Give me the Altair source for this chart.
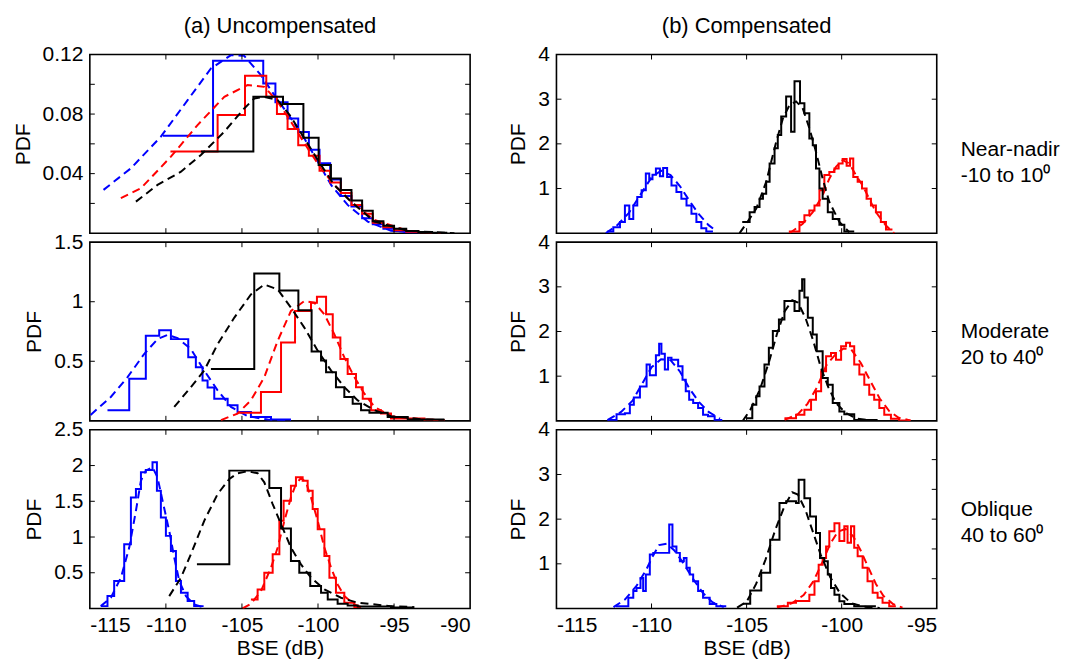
import altair as alt
import pandas as pd

FONT = "Liberation Sans"
W, H = 381, 179
BLUE, RED, BLACK = "#0000ff", "#ff0000", "#000000"

# ---------------- axis values ----------------
X_LEFT = [-115, -90]
X_RIGHT = [-115, -95]
X_LEFT_LABELS = [-115, -110, -105, -100, -95, -90]
X_RIGHT_LABELS = [-115, -110, -105, -100, -95]
X_LEFT_INNER = [-110, -105, -100, -95]
X_RIGHT_INNER = [-110, -105, -100]

Y_A1 = [0, 0.12]; Y_A1_LABELS = [0.04, 0.08, 0.12]; Y_A1_TICKS = [0.02, 0.04, 0.06, 0.08, 0.10]
Y_A2 = [0, 1.5];  Y_A2_LABELS = [0.5, 1, 1.5];   Y_A2_TICKS = [0.5, 1.0]
Y_A3 = [0, 2.5];  Y_A3_LABELS = [0.5, 1, 1.5, 2, 2.5]; Y_A3_TICKS = [0.5, 1.0, 1.5, 2.0]
Y_B = [0, 4];     Y_B_LABELS = [1, 2, 3, 4];     Y_B_TICKS = [1, 2, 3]
Y_B3_RIGHT_TICKS = [0.667, 1.333, 2.0, 2.667, 3.333]

# ---------------- (a) Uncompensated, near-nadir ----------------
a1_blue_edges = [-110.2, -106.9, -103.6, -102.8, -102.0, -101.3, -100.6, -99.9, -99.2, -98.5, -97.8, -97.1, -96.4, -95.7, -95.0, -94.3, -93.5]
a1_blue_h = [0.0655, 0.1158, 0.1006, 0.0880, 0.0770, 0.0680, 0.0560, 0.0470, 0.0360, 0.0250, 0.0180, 0.0100, 0.0060, 0.0030, 0.0015, 0.0005]
a1_blue_fit_x = [-114.1, -112.3, -110.33, -108.57, -107.04, -105.72, -104.85, -103.75, -102.87, -101.78, -100.90, -100.02, -99.14, -98.05, -96.73, -95.2, -93.0]
a1_blue_fit_y = [0.0291, 0.0436, 0.0648, 0.0894, 0.1106, 0.1196, 0.1191, 0.1061, 0.0927, 0.0771, 0.0637, 0.0481, 0.0324, 0.0190, 0.0078, 0.0016, 0.0]
a1_red_edges = [-109.7, -106.6, -104.8, -103.4, -102.7, -102.0, -101.3, -100.6, -99.9, -99.2, -98.5, -97.8, -97.1, -96.4, -95.7, -95.0, -94.2, -93.4, -92.5]
a1_red_h = [0.0548, 0.0793, 0.1057, 0.0916, 0.0800, 0.0700, 0.0590, 0.0520, 0.0420, 0.0340, 0.0270, 0.0190, 0.0130, 0.0070, 0.0040, 0.0020, 0.0010, 0.0004]
a1_red_fit_x = [-112.96, -111.64, -109.67, -107.92, -106.16, -104.63, -103.53, -102.65, -101.78, -100.68, -99.80, -98.93, -97.83, -96.29, -94.10, -91.91]
a1_red_fit_y = [0.0235, 0.0302, 0.0514, 0.0726, 0.0916, 0.0995, 0.0983, 0.0883, 0.0749, 0.0570, 0.0436, 0.0324, 0.0212, 0.0089, 0.0016, 0.0]
a1_black_edges = [-107.7, -104.25, -102.3, -100.96, -99.96, -99.15, -98.5, -97.8, -97.1, -96.4, -95.7, -95.0, -94.2, -93.4, -92.5, -91.5]
a1_black_h = [0.0548, 0.0916, 0.0867, 0.0641, 0.0458, 0.0367, 0.0290, 0.0220, 0.0150, 0.0080, 0.0050, 0.0030, 0.0015, 0.0008, 0.0003]
a1_black_fit_x = [-111.97, -110.55, -109.01, -107.70, -106.16, -104.85, -104.19, -103.53, -102.65, -101.78, -100.90, -99.80, -98.93, -97.83, -96.29, -94.10, -91.03]
a1_black_fit_y = [0.0212, 0.0324, 0.0413, 0.0525, 0.0682, 0.0838, 0.0905, 0.0916, 0.0894, 0.0782, 0.0637, 0.0458, 0.0324, 0.0212, 0.0078, 0.0016, 0.0]

# ---------------- (a) Uncompensated, moderate ----------------
a2_blue_edges = [-113.84, -112.41, -111.32, -110.44, -109.67, -108.53, -108.03, -107.59, -107.26, -106.82, -105.94, -105.29, -104.41, -103.09, -101.78]
a2_blue_h = [0.089, 0.353, 0.714, 0.761, 0.686, 0.533, 0.45, 0.339, 0.28, 0.186, 0.131, 0.075, 0.033, 0.011]
a2_blue_fit_x = [-114.95, -113.62, -112.52, -111.43, -110.55, -109.89, -109.23, -108.36, -107.48, -106.60, -105.72, -104.63, -103.31, -101.78]
a2_blue_fit_y = [0.05, 0.200, 0.367, 0.561, 0.686, 0.722, 0.694, 0.603, 0.422, 0.256, 0.117, 0.039, 0.011, 0.0]
a2_red_edges = [-105.29, -103.75, -102.43, -101.51, -100.46, -100.07, -99.47, -99.03, -98.53, -98.05, -97.50, -97.06, -96.51, -95.86, -95.20, -93.0, -91.69]
a2_red_h = [0.067, 0.242, 0.658, 0.922, 0.992, 1.042, 0.894, 0.700, 0.519, 0.394, 0.283, 0.186, 0.089, 0.061, 0.019, 0.008]
a2_red_fit_x = [-106.38, -105.29, -104.41, -103.53, -102.65, -101.78, -100.90, -100.24, -99.58, -98.93, -98.27, -97.61, -96.95, -96.29, -95.20, -93.0, -91.69]
a2_red_fit_y = [0.006, 0.061, 0.172, 0.367, 0.672, 0.922, 1.006, 0.992, 0.894, 0.728, 0.533, 0.367, 0.228, 0.117, 0.039, 0.011, 0.006]
a2_black_edges = [-107.04, -104.19, -102.54, -101.29, -100.42, -99.80, -99.47, -98.82, -98.27, -97.72, -97.17, -96.62, -95.42, -94.10, -91.69]
a2_black_h = [0.436, 1.236, 1.094, 0.928, 0.583, 0.506, 0.408, 0.283, 0.2, 0.144, 0.089, 0.067, 0.033, 0.011]
a2_black_fit_x = [-109.45, -108.36, -107.48, -106.60, -105.50, -104.41, -103.53, -102.65, -101.78, -100.90, -100.02, -99.14, -98.27, -97.39, -96.29, -95.20, -93.00, -91.69]
a2_black_fit_y = [0.117, 0.283, 0.422, 0.644, 0.867, 1.061, 1.144, 1.103, 0.950, 0.783, 0.589, 0.422, 0.283, 0.172, 0.089, 0.039, 0.011, 0.006]

# ---------------- (a) Uncompensated, oblique ----------------
a3_blue_edges = [-114.28, -113.84, -113.40, -112.74, -112.30, -111.97, -111.64, -111.32, -110.88, -110.59, -110.33, -110.0, -109.67, -109.34, -109.01, -108.57, -108.14, -107.52]
a3_blue_h = [0.033, 0.173, 0.384, 0.899, 1.554, 1.671, 1.906, 1.938, 2.046, 1.648, 1.273, 1.016, 0.805, 0.384, 0.220, 0.103, 0.033]
a3_blue_fit_x = [-114.28, -113.62, -112.96, -112.41, -111.97, -111.64, -111.32, -110.88, -110.55, -110.22, -109.78, -109.45, -109.12, -108.68, -108.14, -107.59]
a3_blue_fit_y = [0.033, 0.150, 0.431, 0.852, 1.367, 1.788, 1.929, 1.976, 1.835, 1.508, 1.086, 0.712, 0.384, 0.173, 0.056, 0.019]
a3_red_edges = [-104.41, -103.97, -103.53, -102.98, -102.54, -102.26, -101.78, -101.45, -101.01, -100.68, -100.35, -100.02, -99.58, -99.25, -98.82, -98.27, -97.61, -97.17]
a3_red_h = [0.126, 0.267, 0.501, 0.758, 1.227, 1.508, 1.718, 1.835, 1.788, 1.648, 1.391, 1.110, 0.735, 0.431, 0.220, 0.080, 0.019]
a3_red_fit_x = [-104.96, -104.41, -103.75, -103.09, -102.65, -102.21, -101.78, -101.45, -101.12, -100.79, -100.46, -100.02, -99.58, -99.14, -98.71, -98.27, -97.61, -97.17]
a3_red_fit_y = [0.0, 0.066, 0.243, 0.571, 0.852, 1.227, 1.554, 1.742, 1.826, 1.765, 1.554, 1.227, 0.852, 0.571, 0.337, 0.173, 0.056, 0.019]
a3_black_edges = [-107.96, -105.83, -103.20, -102.43, -101.78, -101.23, -100.51, -99.80, -99.36, -98.71, -98.05, -97.39, -95.20, -93.71]
a3_black_h = [0.618, 1.929, 1.686, 1.119, 0.665, 0.501, 0.314, 0.220, 0.126, 0.066, 0.042, 0.028, 0.014]
a3_black_fit_x = [-109.78, -109.01, -108.36, -107.48, -106.60, -105.83, -105.29, -104.63, -103.97, -103.53, -102.98, -102.43, -101.78, -101.12, -100.46, -99.58, -98.49, -97.39, -95.20, -93.66]
a3_black_fit_y = [0.173, 0.431, 0.758, 1.227, 1.601, 1.812, 1.892, 1.920, 1.892, 1.765, 1.461, 1.180, 0.852, 0.618, 0.431, 0.267, 0.150, 0.080, 0.033, 0.019]

# ---------------- (b) Compensated, near-nadir ----------------
b1_blue_edges = [-112.33, -112.01, -111.66, -111.40, -111.17, -110.96, -110.75, -110.52, -110.30, -110.12, -109.95, -109.77, -109.56, -109.39, -109.18, -108.95, -108.69, -108.43, -108.16, -107.90, -107.64, -107.38, -107.12, -106.77]
b1_blue_h = [0.04, 0.135, 0.25, 0.62, 0.32, 0.62, 0.81, 0.96, 1.335, 1.21, 1.31, 1.45, 1.275, 1.46, 1.26, 1.07, 0.92, 0.77, 0.62, 0.435, 0.25, 0.11, 0.04]
b1_blue_fit_x = [-112.4, -111.8, -111.2, -110.6, -110.0, -109.5, -109.0, -108.5, -108.0, -107.5, -107.0, -106.6]
b1_blue_fit_y = [0.0, 0.18, 0.45, 0.85, 1.25, 1.40, 1.30, 1.05, 0.72, 0.42, 0.18, 0.05]
b1_red_edges = [-102.78, -102.22, -101.96, -101.70, -101.43, -101.17, -100.91, -100.65, -100.38, -100.16, -99.95, -99.74, -99.56, -99.39, -99.16, -98.93, -98.69, -98.46, -98.20, -97.94, -97.67, -97.33]
b1_red_h = [0.04, 0.25, 0.40, 0.51, 0.62, 0.96, 1.30, 1.37, 1.45, 1.56, 1.66, 1.51, 1.67, 1.26, 1.15, 1.0, 0.77, 0.62, 0.47, 0.25, 0.08]
b1_red_fit_x = [-102.74, -102.05, -101.52, -101.0, -100.65, -100.30, -99.95, -99.60, -99.25, -98.90, -98.55, -98.20, -97.67, -97.24]
b1_red_fit_y = [0.0, 0.21, 0.47, 0.85, 1.22, 1.485, 1.635, 1.56, 1.30, 1.07, 0.77, 0.47, 0.17, 0.0]
b1_black_edges = [-105.23, -104.84, -104.58, -104.32, -104.14, -103.97, -103.79, -103.53, -103.36, -103.18, -102.92, -102.66, -102.48, -102.19, -101.96, -101.70, -101.52, -101.35, -101.17, -101.0, -100.73, -100.47, -100.12, -99.86, -99.34]
b1_black_h = [0.25, 0.47, 0.585, 0.77, 0.885, 1.15, 1.56, 1.90, 2.20, 2.61, 3.06, 2.27, 3.40, 2.91, 2.685, 2.12, 1.97, 1.45, 1.0, 0.77, 0.47, 0.32, 0.19, 0.04]
b1_black_fit_x = [-105.37, -105.02, -104.49, -103.97, -103.44, -103.09, -102.74, -102.40, -102.05, -101.70, -101.35, -101.0, -100.65, -100.12, -99.60]
b1_black_fit_y = [0.0, 0.21, 0.55, 1.15, 2.05, 2.57, 2.87, 2.95, 2.80, 2.35, 1.82, 1.22, 0.70, 0.25, 0.02]

# ---------------- (b) Compensated, moderate ----------------
b2_blue_edges = [-112.33, -111.84, -111.40, -111.14, -110.93, -110.61, -110.26, -110.09, -109.77, -109.60, -109.48, -109.30, -109.13, -108.95, -108.60, -108.37, -108.20, -108.02, -107.81, -107.55, -107.29, -107.03, -106.68, -106.28]
b2_blue_h = [0.02, 0.15, 0.17, 0.36, 0.525, 0.77, 1.26, 1.02, 1.47, 1.725, 1.50, 1.15, 1.41, 1.37, 1.22, 0.92, 0.66, 0.47, 0.40, 0.285, 0.135, 0.10, 0.02]
b2_blue_fit_x = [-112.3, -111.6, -111.0, -110.4, -110.0, -109.5, -109.0, -108.5, -108.0, -107.5, -107.0, -106.4]
b2_blue_fit_y = [0.02, 0.2, 0.45, 0.9, 1.2, 1.38, 1.36, 1.1, 0.72, 0.42, 0.2, 0.05]
b2_red_edges = [-103.01, -102.40, -101.96, -101.61, -101.35, -101.08, -100.82, -100.56, -100.30, -100.03, -99.77, -99.56, -99.34, -99.07, -98.81, -98.55, -98.29, -98.02, -97.76, -97.41, -96.98, -96.36]
b2_red_h = [0.06, 0.135, 0.25, 0.47, 0.66, 1.11, 1.445, 1.52, 1.37, 1.67, 1.75, 1.67, 1.26, 1.035, 0.81, 0.585, 0.47, 0.285, 0.135, 0.045, 0.01]
b2_red_fit_x = [-103.0, -102.3, -101.8, -101.3, -100.8, -100.3, -99.9, -99.5, -99.0, -98.5, -98.0, -97.5, -97.0, -96.4]
b2_red_fit_y = [0.02, 0.15, 0.38, 0.75, 1.25, 1.5, 1.62, 1.6, 1.3, 0.9, 0.5, 0.22, 0.07, 0.01]
b2_black_edges = [-105.02, -104.70, -104.49, -104.32, -104.06, -103.83, -103.62, -103.30, -103.01, -102.48, -102.22, -102.08, -101.96, -101.78, -101.52, -101.31, -101.0, -100.73, -100.47, -100.12, -99.86, -99.34, -98.11]
b2_black_h = [0.06, 0.36, 0.55, 0.77, 1.26, 1.635, 2.01, 2.27, 2.685, 2.46, 2.91, 3.17, 2.76, 2.31, 1.935, 1.56, 0.96, 0.81, 0.40, 0.21, 0.15, 0.02]
b2_black_fit_x = [-105.2, -104.8, -104.3, -103.8, -103.4, -103.0, -102.6, -102.3, -101.9, -101.5, -101.1, -100.7, -100.3, -99.8, -99.2, -98.5]
b2_black_fit_y = [0.0, 0.25, 0.7, 1.35, 1.95, 2.45, 2.7, 2.65, 2.3, 1.8, 1.2, 0.75, 0.4, 0.18, 0.05, 0.01]

# ---------------- (b) Compensated, oblique ----------------
b3_blue_edges = [-111.87, -111.22, -110.96, -110.79, -110.58, -110.44, -110.30, -110.09, -109.91, -109.07, -108.90, -108.69, -108.51, -108.30, -108.16, -107.99, -107.81, -107.55, -107.29, -106.94, -106.59, -106.07]
b3_blue_h = [0.05, 0.24, 0.39, 0.46, 0.685, 0.39, 0.76, 1.21, 1.245, 1.88, 1.39, 1.245, 1.06, 1.13, 0.91, 0.76, 0.61, 0.39, 0.24, 0.10, 0.05]
b3_blue_fit_x = [-112.0, -111.4, -110.8, -110.3, -109.9, -109.6, -109.2, -108.8, -108.3, -107.8, -107.3, -106.8, -106.2]
b3_blue_fit_y = [0.03, 0.2, 0.5, 0.85, 1.2, 1.42, 1.45, 1.3, 1.0, 0.65, 0.35, 0.14, 0.03]
b3_red_edges = [-103.41, -102.83, -102.40, -101.70, -101.43, -101.21, -101.0, -100.82, -100.65, -100.38, -100.12, -99.86, -99.69, -99.51, -99.34, -99.16, -98.90, -98.64, -98.37, -98.11, -97.85, -97.50, -97.15]
b3_red_h = [0.05, 0.13, 0.17, 0.31, 0.61, 0.98, 1.13, 1.39, 1.73, 1.91, 1.51, 1.84, 1.47, 1.84, 1.36, 1.17, 0.91, 0.61, 0.35, 0.24, 0.13, 0.05]
b3_red_fit_x = [-103.4, -102.6, -102.0, -101.5, -101.0, -100.6, -100.2, -99.8, -99.4, -99.0, -98.6, -98.2, -97.8, -97.3, -96.8]
b3_red_fit_y = [0.02, 0.12, 0.3, 0.6, 1.05, 1.45, 1.72, 1.78, 1.62, 1.3, 0.92, 0.55, 0.28, 0.1, 0.02]
b3_black_edges = [-105.19, -104.81, -104.23, -103.76, -103.27, -102.92, -102.40, -102.26, -101.96, -101.66, -101.35, -101.14, -100.91, -100.73, -100.56, -100.38, -100.12, -99.86, -99.34, -98.20]
b3_black_h = [0.104, 0.40, 0.80, 1.54, 2.36, 2.40, 2.36, 2.88, 2.47, 2.06, 1.69, 1.13, 1.06, 0.76, 0.46, 0.31, 0.16, 0.10, 0.05]
b3_black_fit_x = [-105.5, -105.0, -104.5, -104.0, -103.5, -103.0, -102.6, -102.3, -101.9, -101.5, -101.1, -100.6, -100.1, -99.5, -98.8, -98.0]
b3_black_fit_y = [0.02, 0.15, 0.55, 1.1, 1.75, 2.3, 2.6, 2.55, 2.2, 1.7, 1.2, 0.7, 0.35, 0.12, 0.04, 0.01]

COL_TITLES = ["(a) Uncompensated", "(b) Compensated"]
ROW_LABELS = [["Near-nadir", "-10 to 10\u2070"], ["Moderate", "20 to 40\u2070"], ["Oblique", "40 to 60\u2070"]]
ROW_LABEL_Y = [[96, 122], [90, 116], [80, 106]]


def hist_df(edges, h):
    return pd.DataFrame({"x": edges, "y": list(h) + [h[-1]], "i": list(range(len(edges)))})


def fit_df(xs, ys):
    return pd.DataFrame({"x": xs, "y": ys, "i": list(range(len(xs)))})


def panel(xdom, xlabels, xinner, ydom, ylabels, yticks_l, yticks_r, series,
          bottom, title=None, rowlabel=None, rowlabel_y=None, anchors=None):
    xs = alt.Scale(domain=xdom, nice=False, zero=False)
    ys = alt.Scale(domain=ydom, nice=False, zero=False)
    if bottom:
        xaxis = alt.Axis(values=xlabels, labelExpr="'' + datum.value", title="BSE (dB)",
                         ticks=False, tickSize=0, domain=False, grid=False,
                         labelPadding=6, titlePadding=2)
    else:
        xaxis = None
    yaxis = alt.Axis(values=ylabels, labelExpr="'' + datum.value", title="PDF",
                     ticks=False, tickSize=0, domain=False, grid=False,
                     labelPadding=7, titlePadding=9)

    def X(f):
        return alt.X(f, scale=xs, axis=xaxis)

    def Y(f):
        return alt.Y(f, scale=ys, axis=yaxis)

    layers = []
    for color, edges, h, fx, fy in series:
        layers.append(
            alt.Chart(hist_df(edges, h)).mark_line(
                interpolate="step-after", color=color, strokeWidth=2, clip=True
            ).encode(x=X("x:Q"), y=Y("y:Q"), order=alt.Order("i:Q"))
        )
        layers.append(
            alt.Chart(fit_df(fx, fy)).mark_line(
                color=color, strokeWidth=2, strokeDash=[8, 5], clip=True
            ).encode(x=X("x:Q"), y=Y("y:Q"), order=alt.Order("i:Q"))
        )
    tick = dict(color="black", strokeWidth=1)
    layers.append(alt.Chart(pd.DataFrame({"v": yticks_l})).mark_rule(**tick).encode(
        y=Y("v:Q"), x=alt.value(0), x2=alt.value(5)))
    layers.append(alt.Chart(pd.DataFrame({"v": yticks_r})).mark_rule(**tick).encode(
        y=Y("v:Q"), x=alt.value(W - 5), x2=alt.value(W)))
    layers.append(alt.Chart(pd.DataFrame({"v": xinner})).mark_rule(**tick).encode(
        x=X("v:Q"), y=alt.value(0), y2=alt.value(5)))
    layers.append(alt.Chart(pd.DataFrame({"v": xinner})).mark_rule(**tick).encode(
        x=X("v:Q"), y=alt.value(H - 5), y2=alt.value(H)))
    if rowlabel:
        for txt, yy in zip(rowlabel, rowlabel_y):
            layers.append(alt.Chart(pd.DataFrame({"t": [txt]})).mark_text(
                align="left", baseline="middle", font=FONT, fontSize=21, color="black"
            ).encode(text="t:N", x=alt.value(W + 24), y=alt.value(yy)))
    if anchors:
        for ax, ay in anchors:
            layers.append(alt.Chart(pd.DataFrame({"a": [0]})).mark_rule(
                strokeOpacity=0, opacity=0, strokeWidth=1
            ).encode(x=alt.value(ax), x2=alt.value(ax + 1), y=alt.value(ay), y2=alt.value(ay + 1)))
    ch = alt.layer(*layers).properties(width=W, height=H)
    if title:
        ch = ch.properties(title=alt.TitleParams(title, font=FONT, fontSize=22,
                                                 fontWeight="normal", color="black",
                                                 offset=6, frame="group"))
    return ch


def ser(p):
    g = globals()
    return [(c, g[f"{p}_{n}_edges"], g[f"{p}_{n}_h"], g[f"{p}_{n}_fit_x"], g[f"{p}_{n}_fit_y"])
            for c, n in [(BLUE, "blue"), (RED, "red"), (BLACK, "black")]]


a1 = panel(X_LEFT, X_LEFT_LABELS, X_LEFT_INNER, Y_A1, Y_A1_LABELS, Y_A1_TICKS, Y_A1_TICKS,
           ser("a1"), False, title=COL_TITLES[0])
b1 = panel(X_RIGHT, X_RIGHT_LABELS, X_RIGHT_INNER, Y_B, Y_B_LABELS, Y_B_TICKS, Y_B_TICKS,
           ser("b1"), False, title=COL_TITLES[1], rowlabel=ROW_LABELS[0], rowlabel_y=ROW_LABEL_Y[0])
# invisible anchor fixing the page's top-left corner (relative to row 2's plot area)
a2 = panel(X_LEFT, X_LEFT_LABELS, X_LEFT_INNER, Y_A2, Y_A2_LABELS, Y_A2_TICKS, Y_A2_TICKS,
           ser("a2"), False, anchors=[(-89, -(H + 9) - 53)])
b2 = panel(X_RIGHT, X_RIGHT_LABELS, X_RIGHT_INNER, Y_B, Y_B_LABELS, Y_B_TICKS, Y_B_TICKS,
           ser("b2"), False, rowlabel=ROW_LABELS[1], rowlabel_y=ROW_LABEL_Y[1])
a3 = panel(X_LEFT, X_LEFT_LABELS, X_LEFT_INNER, Y_A3, Y_A3_LABELS, Y_A3_TICKS, Y_A3_TICKS,
           ser("a3"), True)
b3 = panel(X_RIGHT, X_RIGHT_LABELS, X_RIGHT_INNER, Y_B, Y_B_LABELS, Y_B_TICKS, Y_B3_RIGHT_TICKS,
           ser("b3"), True, rowlabel=ROW_LABELS[2], rowlabel_y=ROW_LABEL_Y[2],
           anchors=[(W + 127, H + 55)])

chart = alt.concat(a1, b1, a2, b2, a3, b3, columns=2,
                   spacing={"row": 9, "column": 86.5}, bounds="flush").properties(
    padding=0
).configure(font=FONT).configure_view(
    stroke="black", strokeWidth=1.6
).configure_axis(
    labelFont=FONT, titleFont=FONT, labelFontSize=21, titleFontSize=21,
    titleFontWeight="normal", labelColor="black", titleColor="black"
)

chart.save("out.html", embed_options={"renderer": "svg", "actions": False})
